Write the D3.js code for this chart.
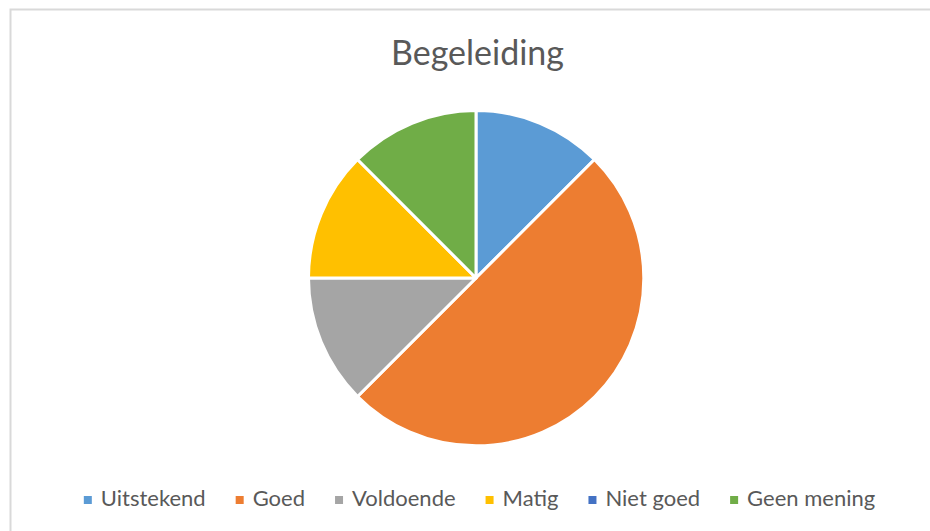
<!DOCTYPE html>
<html>
<head>
<meta charset="utf-8">
<script src="https://cdn.jsdelivr.net/npm/d3@7"></script>
<style>
  html, body { margin: 0; padding: 0; background: #fff; }
  svg { display: block; }
  text { font-family: Lato, "Open Sans", "Liberation Sans", sans-serif; fill: #595959; }
</style>
</head>
<body>
<svg id="chart" width="930" height="531"></svg>
<script>
const title = "Begeleiding";
const categories = ["Uitstekend", "Goed", "Voldoende", "Matig", "Niet goed", "Geen mening"];
const values = [1, 4, 1, 1, 0, 1];
const colors = ["#5B9BD5", "#ED7D31", "#A5A5A5", "#FFC000", "#4472C4", "#70AD47"];

const W = 930, H = 531;
const svg = d3.select("#chart");

// chart area border (only top & left visible in the crop)
svg.append("rect")
  .attr("x", 10.5).attr("y", 9.5)
  .attr("width", W + 20).attr("height", H + 20)
  .attr("fill", "#fff")
  .attr("stroke", "#D9D9D9").attr("stroke-width", 2);

// title
svg.append("text")
  .attr("x", 477.5).attr("y", 65)
  .attr("text-anchor", "middle")
  .attr("font-size", 34)
  .text(title);

// pie
const cx = 476, cy = 278, r = 167.5;
const pie = d3.pie().sort(null).value(d => d.value);
const arc = d3.arc().innerRadius(0).outerRadius(r);
const data = categories.map((c, i) => ({ cat: c, value: values[i], color: colors[i] }));

svg.append("g")
  .attr("transform", `translate(${cx},${cy})`)
  .selectAll("path")
  .data(pie(data).filter(d => d.data.value > 0))
  .join("path")
  .attr("d", arc)
  .attr("fill", d => d.data.color)
  .attr("stroke", "#fff")
  .attr("stroke-width", 3)
  .attr("stroke-linejoin", "round");

// legend
const legendY = 506;
const fontSize = 22;
const marker = 8, markerGap = 9, itemGap = 30;
const lg = svg.append("g");
const items = lg.selectAll("g")
  .data(data)
  .join("g");
items.append("rect")
  .attr("width", marker).attr("height", marker)
  .attr("y", legendY - 10)
  .attr("fill", d => d.color);
items.append("text")
  .attr("y", legendY)
  .attr("x", marker + markerGap)
  .attr("font-size", fontSize)
  .text(d => d.cat);

let widths = [];
items.each(function () {
  widths.push(d3.select(this).select("text").node().getComputedTextLength());
});
const total = widths.reduce((a, w) => a + marker + markerGap + w, 0) + itemGap * (widths.length - 1);
let x = 479.5 - total / 2;
items.each(function (d, i) {
  d3.select(this).attr("transform", `translate(${x},0)`);
  x += marker + markerGap + widths[i] + itemGap;
});
</script>
</body>
</html>
